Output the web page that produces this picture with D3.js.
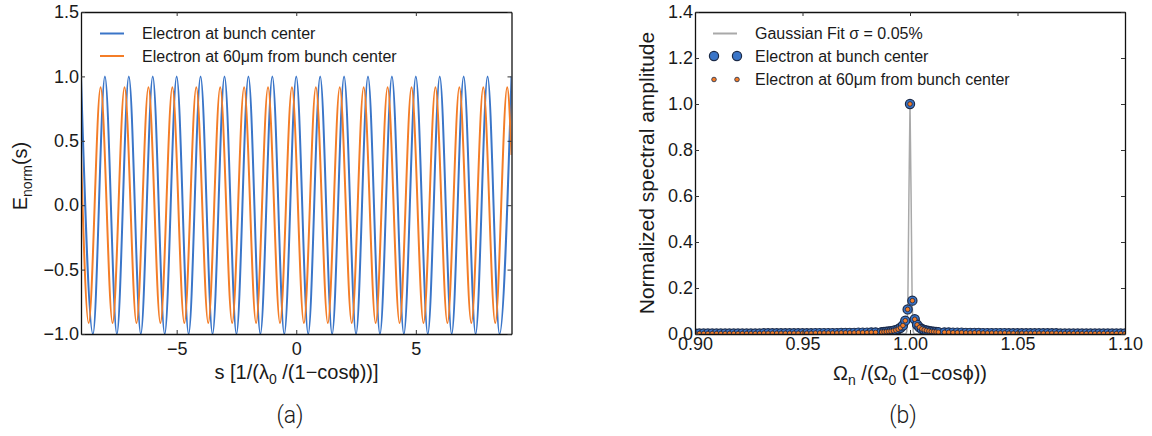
<!DOCTYPE html>
<html>
<head>
<meta charset="utf-8">
<script src="https://cdn.jsdelivr.net/npm/d3@7"></script>
<style>
body { margin: 0; background: #fff; }
svg text { font-family: "Liberation Sans", Arial, sans-serif; fill: #1a1a1a; }
</style>
</head>
<body>
<svg id="chart" width="1152" height="436"></svg>
<script>
"use strict";

// (a) field vs s -- extrema
const sBlue = [-9, -8.5, -8, -7.5, -7, -6.5, -6, -5.5, -5, -4.5, -4, -3.5, -3, -2.5, -2, -1.5, -1, -0.5, 0,
    0.5, 1, 1.5, 2, 2.5, 3, 3.5, 4, 4.5, 5, 5.5, 6, 6.5, 7, 7.5, 8, 8.5, 9];
const eBlue = [1, -1, 1, -1, 1, -1, 1, -1, 1, -1, 1, -1, 1, -1, 1, -1, 1, -1, 1,
    -1, 1, -1, 1, -1, 1, -1, 1, -1, 1, -1, 1, -1, 1, -1, 1, -1, 1];
const sOrange = [-9, -8.68, -8.18, -7.68, -7.18, -6.68, -6.18, -5.68, -5.18, -4.68, -4.18, -3.68, -3.18,
    -2.68, -2.18, -1.68, -1.18, -0.68, -0.18, 0.32, 0.82, 1.32, 1.82, 2.32, 2.82, 3.32, 3.82, 4.32,
    4.82, 5.32, 5.82, 6.32, 6.82, 7.32, 7.82, 8.32, 8.82, 9];
const eOrange = [0.39, -0.915, 0.915, -0.915, 0.915, -0.915, 0.915, -0.915, 0.915, -0.915, 0.915, -0.915, 0.915,
    -0.915, 0.915, -0.915, 0.915, -0.915, 0.915, -0.915, 0.915, -0.915, 0.915, -0.915, 0.915, -0.915, 0.915, -0.915,
    0.915, -0.915, 0.915, -0.915, 0.915, -0.915, 0.915, -0.915, 0.915, 0.39];

// (b) spectrum
const freq = [0.900, 0.902, 0.904, 0.906, 0.908, 0.910, 0.912, 0.914, 0.916, 0.918, 0.920, 0.922, 0.924, 0.926,
    0.928, 0.930, 0.932, 0.934, 0.936, 0.938, 0.940, 0.942, 0.944, 0.946, 0.948, 0.950, 0.952, 0.954, 0.956,
    0.958, 0.960, 0.962, 0.964, 0.966, 0.968, 0.970, 0.972, 0.974, 0.976, 0.978, 0.980, 0.982, 0.984,
    0.9868, 0.9879, 0.9890, 0.9901, 0.9912, 0.9923, 0.9934, 0.9945, 0.9956, 0.9967, 0.9978, 0.9989, 1.0000,
    1.0011, 1.0022, 1.0033, 1.0044, 1.0055, 1.0066, 1.0077, 1.0088, 1.0099, 1.0110, 1.0121, 1.0132,
    1.016, 1.018, 1.020, 1.022, 1.024, 1.026, 1.028, 1.030, 1.032, 1.034, 1.036, 1.038, 1.040, 1.042,
    1.044, 1.046, 1.048, 1.050, 1.052, 1.054, 1.056, 1.058, 1.060, 1.062, 1.064, 1.066, 1.068, 1.070,
    1.072, 1.074, 1.076, 1.078, 1.080, 1.082, 1.084, 1.086, 1.088, 1.090, 1.092, 1.094, 1.096, 1.098, 1.100];
const ampBlue = [0.002, 0.002, 0.002, 0.002, 0.002, 0.002, 0.002, 0.002, 0.002, 0.002, 0.002, 0.002, 0.002, 0.002,
    0.002, 0.002, 0.003, 0.003, 0.003, 0.003, 0.003, 0.003, 0.003, 0.003, 0.003, 0.003, 0.003, 0.003, 0.004,
    0.004, 0.004, 0.004, 0.004, 0.004, 0.005, 0.005, 0.005, 0.005, 0.006, 0.006, 0.006, 0.007, 0.007,
    0.008, 0.009, 0.010, 0.011, 0.012, 0.014, 0.017, 0.021, 0.027, 0.037, 0.058, 0.107, 1.000,
    0.145, 0.064, 0.040, 0.029, 0.022, 0.018, 0.015, 0.013, 0.011, 0.010, 0.009, 0.008,
    0.007, 0.007, 0.006, 0.006, 0.006, 0.005, 0.005, 0.005, 0.005, 0.004, 0.004, 0.004, 0.004, 0.004,
    0.004, 0.003, 0.003, 0.003, 0.003, 0.003, 0.003, 0.003, 0.003, 0.003, 0.003, 0.003, 0.003, 0.002,
    0.002, 0.002, 0.002, 0.002, 0.002, 0.002, 0.002, 0.002, 0.002, 0.002, 0.002, 0.002, 0.002, 0.002, 0.002];
const ampOrange = [0.002, 0.002, 0.002, 0.002, 0.002, 0.002, 0.002, 0.002, 0.002, 0.002, 0.002, 0.002, 0.002, 0.002,
    0.002, 0.002, 0.003, 0.003, 0.003, 0.003, 0.003, 0.003, 0.003, 0.003, 0.003, 0.003, 0.003, 0.003, 0.004,
    0.004, 0.004, 0.004, 0.004, 0.004, 0.005, 0.005, 0.005, 0.005, 0.006, 0.006, 0.006, 0.007, 0.007,
    0.008, 0.009, 0.010, 0.011, 0.012, 0.014, 0.017, 0.021, 0.027, 0.037, 0.058, 0.107, 1.000,
    0.145, 0.064, 0.040, 0.029, 0.022, 0.018, 0.015, 0.013, 0.011, 0.010, 0.009, 0.008,
    0.007, 0.007, 0.006, 0.006, 0.006, 0.005, 0.005, 0.005, 0.005, 0.004, 0.004, 0.004, 0.004, 0.004,
    0.004, 0.003, 0.003, 0.003, 0.003, 0.003, 0.003, 0.003, 0.003, 0.003, 0.003, 0.003, 0.003, 0.002,
    0.002, 0.002, 0.002, 0.002, 0.002, 0.002, 0.002, 0.002, 0.002, 0.002, 0.002, 0.002, 0.002, 0.002, 0.002];
const fitX = [0.900, 0.9980, 0.9985, 0.9990, 0.9995, 1.0000, 1.0005, 1.0010, 1.0015, 1.0020, 1.100];
const fitY = [0.000, 0.000, 0.011, 0.135, 0.607, 1.000, 0.607, 0.135, 0.011, 0.000, 0.000];

const ticksA = {x: [-5, 0, 5], y: [-1, -0.5, 0, 0.5, 1, 1.5]};
const ticksB = {x: [0.90, 0.95, 1.00, 1.05, 1.10], y: [0, 0.2, 0.4, 0.6, 0.8, 1.0, 1.2, 1.4]};

const BLUE = "#3a75c8", ORANGE = "#f47d27", EDGE = "#1b2a48", GREY = "#a9a9a9";

const svg = d3.select("#chart");

function frame(g, x, y, xt, yt, xFmt, yFmt, xPad) {
    const [x0, x1] = x.range(), [y0, y1] = y.range();
    const axes = [
        g.append("g").attr("transform", "translate(0," + y0 + ")")
            .call(d3.axisBottom(x).tickValues(xt).tickFormat(xFmt).tickSize(-4).tickSizeOuter(0).tickPadding(xPad)),
        g.append("g").attr("transform", "translate(0," + y1 + ")")
            .call(d3.axisTop(x).tickValues(xt).tickFormat("").tickSize(-4).tickSizeOuter(0)),
        g.append("g").attr("transform", "translate(" + x0 + ",0)")
            .call(d3.axisLeft(y).tickValues(yt).tickFormat(yFmt).tickSize(-4).tickSizeOuter(0).tickPadding(2)),
        g.append("g").attr("transform", "translate(" + x1 + ",0)")
            .call(d3.axisRight(y).tickValues(yt).tickFormat("").tickSize(-4).tickSizeOuter(0))
    ];
    axes.forEach(a => {
        a.attr("font-size", 18).attr("font-family", null);
        a.select(".domain").attr("stroke", "#111").attr("stroke-width", 1.3);
        a.selectAll(".tick line").attr("stroke", "#333").attr("stroke-width", 1);
        a.selectAll(".tick text").attr("fill", "#1a1a1a");
    });
}

function clip(id, x, y) {
    const [x0, x1] = x.range(), [y0, y1] = y.range();
    svg.append("clipPath").attr("id", id).append("rect")
        .attr("x", x0).attr("y", y1).attr("width", x1 - x0).attr("height", y0 - y1);
}

// ---------- panel (a)
const xa = d3.scaleLinear().domain([-9, 9]).range([81, 511.5]);
const ya = d3.scaleLinear().domain([-1, 1.5]).range([334, 12]);
const ga = svg.append("g");
clip("clip-a", xa, ya);

const lineA = (xs, ys) => d3.line()
    .x(i => xa(xs[i])).y(i => ya(ys[i]))
    .curve(d3.curveMonotoneX)(d3.range(xs.length));

const plotA = ga.append("g").attr("clip-path", "url(#clip-a)");
plotA.append("path").attr("d", lineA(sBlue, eBlue))
    .attr("fill", "none").attr("stroke", BLUE).attr("stroke-width", 2);
plotA.append("path").attr("d", lineA(sOrange, eOrange))
    .attr("fill", "none").attr("stroke", ORANGE).attr("stroke-width", 2);

frame(ga, xa, ya, ticksA.x, ticksA.y, d3.format("d"), d3.format(".1f"), 8);

const legA = ga.append("g").attr("font-size", 16);
[["Electron at bunch center", BLUE, 33.5], ["Electron at 60μm from bunch center", ORANGE, 56]].forEach(([t, c, yy]) => {
    legA.append("line").attr("x1", 100).attr("x2", 124).attr("y1", yy).attr("y2", yy)
        .attr("stroke", c).attr("stroke-width", 2);
    legA.append("text").attr("x", 142).attr("y", yy + 5.5).text(t);
});

const yla = ga.append("text").attr("text-anchor", "middle").attr("font-size", 20)
    .attr("transform", "translate(27,176) rotate(-90)");
yla.append("tspan").text("E");
yla.append("tspan").attr("font-size", 14).attr("dy", 5).text("norm");
yla.append("tspan").attr("dy", -5).text("(s)");

const xla = ga.append("text").attr("text-anchor", "middle").attr("font-size", 20)
    .attr("x", 296.5).attr("y", 379);
xla.append("tspan").text("s [1/(λ");
xla.append("tspan").attr("font-size", 14).attr("dy", 5).text("0");
xla.append("tspan").attr("dy", -5).text(" /(1−cosϕ))]");

ga.append("text").attr("x", 290).attr("y", 423).attr("text-anchor", "middle")
    .attr("font-size", 23).style("font-family", "Roboto, 'Liberation Sans', sans-serif")
    .attr("font-weight", 300).text("(a)");

// ---------- panel (b)
const xb = d3.scaleLinear().domain([0.9, 1.1]).range([695, 1125]);
const yb = d3.scaleLinear().domain([0, 1.4]).range([334, 12]);
const gb = svg.append("g");
clip("clip-b", xb, yb);

const plotB = gb.append("g").attr("clip-path", "url(#clip-b)");
plotB.append("path")
    .attr("d", d3.line().x(i => xb(fitX[i])).y(i => yb(fitY[i]))(d3.range(fitX.length)))
    .attr("fill", "none").attr("stroke", GREY).attr("stroke-width", 1.5);

const idx = d3.range(freq.length);
plotB.append("g").selectAll("circle").data(idx).join("circle")
    .attr("cx", i => xb(freq[i])).attr("cy", i => yb(ampBlue[i])).attr("r", 4.6)
    .attr("fill", BLUE).attr("stroke", EDGE).attr("stroke-width", 1.2);
plotB.append("g").selectAll("circle").data(idx).join("circle")
    .attr("cx", i => xb(freq[i])).attr("cy", i => yb(ampOrange[i])).attr("r", 2.3)
    .attr("fill", ORANGE).attr("stroke", EDGE).attr("stroke-width", 0.8);

frame(gb, xb, yb, ticksB.x, ticksB.y, d3.format(".2f"), d3.format(".1f"), 3);

const legB = gb.append("g").attr("font-size", 16);
legB.append("line").attr("x1", 713).attr("x2", 737).attr("y1", 33.5).attr("y2", 33.5)
    .attr("stroke", GREY).attr("stroke-width", 2);
legB.append("text").attr("x", 755).attr("y", 39).text("Gaussian Fit σ = 0.05%");
[714, 737].forEach(cx => {
    legB.append("circle").attr("cx", cx).attr("cy", 56).attr("r", 4.6)
        .attr("fill", BLUE).attr("stroke", EDGE).attr("stroke-width", 1.2);
    legB.append("circle").attr("cx", cx).attr("cy", 79.5).attr("r", 2.3)
        .attr("fill", ORANGE).attr("stroke", EDGE).attr("stroke-width", 0.8);
});
legB.append("text").attr("x", 755).attr("y", 61.5).text("Electron at bunch center");
legB.append("text").attr("x", 755).attr("y", 85).text("Electron at 60μm from bunch center");

gb.append("text").attr("text-anchor", "middle").attr("font-size", 21)
    .attr("transform", "translate(654,173) rotate(-90)").text("Normalized spectral amplitude");

const xlb = gb.append("text").attr("text-anchor", "middle").attr("font-size", 20)
    .attr("x", 910).attr("y", 380);
xlb.append("tspan").text("Ω");
xlb.append("tspan").attr("font-size", 14).attr("dy", 5).text("n");
xlb.append("tspan").attr("dy", -5).text(" /(Ω");
xlb.append("tspan").attr("font-size", 14).attr("dy", 5).text("0");
xlb.append("tspan").attr("dy", -5).text(" (1−cosϕ))");

gb.append("text").attr("x", 903).attr("y", 423).attr("text-anchor", "middle")
    .attr("font-size", 23).style("font-family", "Roboto, 'Liberation Sans', sans-serif")
    .attr("font-weight", 300).text("(b)");
</script>
</body>
</html>
